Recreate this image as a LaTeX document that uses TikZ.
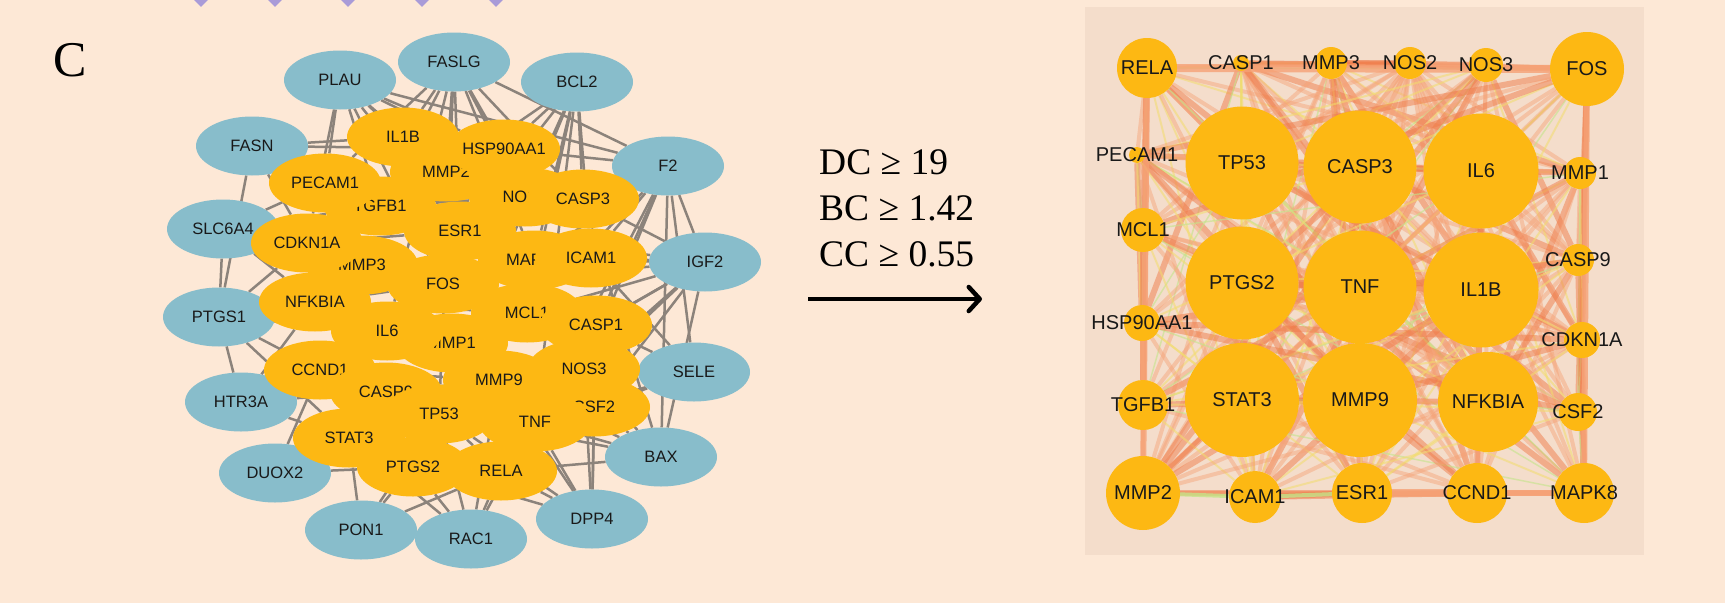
\documentclass[tikz,border=0pt]{standalone}
\usepackage{fontspec}
\setmainfont{Liberation Serif}
\newfontfamily\arialf{Liberation Sans}
\usetikzlibrary{arrows.meta,shapes.geometric}
\pgfdeclarelayer{back}
\pgfdeclarelayer{edges}
\pgfdeclarelayer{labels}
\pgfsetlayers{back,edges,main,labels}
\definecolor{bgc}{HTML}{FDE8D6}
\definecolor{panelc}{HTML}{F4DDCB}
\definecolor{orn}{HTML}{FDB813}
\definecolor{blu}{HTML}{88BDCB}
\definecolor{gre}{HTML}{8C837B}
\definecolor{dia}{HTML}{A99BD8}
\definecolor{eA}{HTML}{F07C4A}
\definecolor{eB}{HTML}{F6A276}
\definecolor{eC}{HTML}{F2DC6E}
\definecolor{eD}{HTML}{C4E48A}
\tikzset{
  lell/.style={ellipse, minimum width=112, minimum height=59, inner sep=0, draw=none},
  oell/.style={lell, fill=orn},
  bell/.style={lell, fill=blu},
  llab/.style={font=\arialf\fontsize{16.5}{16.5}\selectfont, text=black!90, inner sep=0},
  rcirc/.style={circle, fill=orn, inner sep=0, draw=none},
  rlab/.style={font=\arialf\fontsize{20}{20}\selectfont, text=black!90, inner sep=0},
  ledge/.style={draw=gre, line width=2.5},
  rA/.style={draw=eA, draw opacity=0.5, line width=6},
  rB/.style={draw=eB, draw opacity=0.45, line width=4},
  rC/.style={draw=eC, draw opacity=0.55, line width=2},
  rD/.style={draw=eD, draw opacity=0.6, line width=1.5},
  ring/.style={draw=eB, draw opacity=0.8, line width=6},
  serif/.style={font=\fontsize{37.5}{37.5}\selectfont, inner sep=0, anchor=base west},
  diam/.style={diamond, fill=dia, minimum width=18, minimum height=18, inner sep=0}
}
\begin{document}
\begin{tikzpicture}[x=1pt,y=-1pt]
\begin{pgfonlayer}{back}
\fill[bgc] (0,0) rectangle (1725,603);
\fill[panelc] (1085,7) rectangle (1644,555);
\end{pgfonlayer}
\useasboundingbox (0,0) rectangle (1725,603);

% top diamonds
\foreach \x [count=\k] in {201,275,348,422,496}
  \node[diam] (d\k) at (\x,-2) {};

% panel letter
\node[font=\fontsize{50}{50}\selectfont, inner sep=0] (letter) at (70,60) {C};

% criteria text
\node[serif] (dc) at (819,174) {DC ≥ 19};
\node[serif] (bc) at (819,220) {BC ≥ 1.42};
\node[serif] (cc) at (819,266) {CC ≥ 0.55};
\coordinate (arrS) at (808,299);
\coordinate (arrE) at (982,299);
\draw[line width=4.5, -{Straight Barb[length=11pt,width=24pt,line cap=round,line join=round]}] (arrS) -- (arrE);

% ===== left network =====
\foreach \n/\x/\y in {PLAU/340/80, FASLG/454/62, BCL2/577/82, FASN/252/146, F2/668/166,
  SLC6A4/223/229, IGF2/705/262, PTGS1/219/317, SELE/694/372, HTR3A/241/402,
  BAX/661/457, DUOX2/275/473, DPP4/592/519, PON1/361/530, RAC1/471/539}
  {\node[bell] (l-\n) at (\x,\y) {}; \node[llab] (lt-\n) at (l-\n) {\n};}

\foreach \n/\x/\y in {MMP2/446/172, TGFB1/380/206, NOS2/525/197, MAPK8/534/260,
  MMP3/362/265, MCL1/527/313, MMP1/452/343, CCND1/320/370, CSF2/594/407,
  CASP9/386/392, IL1B/403/137, HSP90AA1/504/149, PECAM1/325/183, CASP3/583/199,
  ICAM1/591/258, CDKN1A/307/243, ESR1/460/231, FOS/443/284, NFKBIA/315/302,
  CASP1/596/325, IL6/387/331, NOS3/584/369, MMP9/499/380, TNF/535/422,
  TP53/439/414, STAT3/349/438, PTGS2/413/467, RELA/501/471}
  {\node[oell] (l-\n) at (\x,\y) {}; \node[llab] (lt-\n) at (l-\n) {\n};}

\begin{pgfonlayer}{edges}
\foreach \a/\b in {
  PLAU/IL1B, PLAU/PECAM1, PLAU/MMP2, PLAU/TGFB1, PLAU/ESR1, PLAU/CDKN1A, PLAU/FOS, PLAU/HSP90AA1, PLAU/CASP3, PLAU/F2,
  FASLG/IL1B, FASLG/HSP90AA1, FASLG/MMP2, FASLG/TGFB1, FASLG/NOS2, FASLG/CASP3, FASLG/ESR1, FASLG/FOS, FASLG/MAPK8, FASLG/PECAM1, FASLG/TP53, FASLG/IL6, FASLG/F2,
  BCL2/HSP90AA1, BCL2/CASP3, BCL2/NOS2, BCL2/MMP2, BCL2/ESR1, BCL2/MAPK8, BCL2/ICAM1, BCL2/TNF, BCL2/TP53, BCL2/MCL1,
  FASN/HSP90AA1, FASN/PECAM1, FASN/CDKN1A, FASN/IL1B, FASN/PTGS1,
  F2/CASP3, F2/ICAM1, F2/MAPK8, F2/NOS2, F2/CASP1, F2/MCL1, F2/HSP90AA1, F2/NOS3, F2/TNF, F2/IGF2, F2/SELE, F2/BAX,
  SLC6A4/CDKN1A, SLC6A4/PECAM1, SLC6A4/NFKBIA, SLC6A4/MMP3, SLC6A4/FOS, SLC6A4/TGFB1, SLC6A4/PTGS1,
  IGF2/ICAM1, IGF2/CASP1, IGF2/NOS3, IGF2/MCL1, IGF2/MAPK8, IGF2/CASP3, IGF2/FOS, IGF2/TNF, IGF2/CSF2, IGF2/MMP9, IGF2/ESR1, IGF2/BAX,
  PTGS1/NFKBIA, PTGS1/IL6, PTGS1/CCND1, PTGS1/CDKN1A, PTGS1/STAT3, PTGS1/HTR3A,
  SELE/CSF2, SELE/NOS3, SELE/TNF, SELE/CASP1, SELE/MMP9, SELE/ICAM1,
  HTR3A/CCND1, HTR3A/STAT3, HTR3A/NFKBIA, HTR3A/CASP9,
  BAX/CSF2, BAX/TNF, BAX/RELA, BAX/TP53, BAX/NOS3, BAX/CASP3, BAX/MMP9,
  DUOX2/STAT3, DUOX2/PTGS2, DUOX2/CCND1,
  DPP4/RELA, DPP4/TNF, DPP4/CSF2, DPP4/NOS3, DPP4/MMP9, DPP4/TP53, DPP4/PTGS2, DPP4/CASP1,
  PON1/PTGS2, PON1/STAT3, PON1/RELA, PON1/TP53,
  RAC1/PTGS2, RAC1/RELA, RAC1/TP53, RAC1/TNF, RAC1/MMP9, RAC1/STAT3,
  TGFB1/NOS2, CDKN1A/ESR1, CDKN1A/FOS, NFKBIA/MCL1, NFKBIA/FOS, ESR1/ICAM1,
  MMP1/CASP1, MMP1/NOS3, CCND1/TP53, CCND1/MMP9, CASP9/MMP9, STAT3/TNF,
  TP53/RELA, PECAM1/ESR1, IL1B/HSP90AA1, MMP3/MCL1}
  \draw[ledge] (l-\a) -- (l-\b);
\end{pgfonlayer}

% ===== right network =====
\foreach \n/\x/\y/\d in {RELA/1147/68/60, CASP1/1241/63/16, MMP3/1331/63/32, NOS2/1410/63/32,
  NOS3/1486/65/34, FOS/1587/69/74, PECAM1/1137/155/16, TP53/1242/163/113,
  CASP3/1360/167/113, IL6/1481/171/115, MMP1/1580/173/32, MCL1/1143/230/44,
  CASP9/1578/260/32, PTGS2/1242/283/113, TNF/1360/287/113, IL1B/1481/290/115,
  HSP90AA1/1142/323/36, CDKN1A/1582/340/36, TGFB1/1143/405/50, STAT3/1242/400/114,
  MMP9/1360/400/114, NFKBIA/1488/402/100, CSF2/1578/412/38, MMP2/1143/493/74,
  ICAM1/1255/497/52, ESR1/1362/493/60, CCND1/1477/493/60, MAPK8/1584/493/60}
  {\node[rcirc, minimum size=\d] (r-\n) at (\x,\y) {};
   \begin{pgfonlayer}{labels}\node[rlab] (rt-\n) at (r-\n) {\n};\end{pgfonlayer}}

\begin{pgfonlayer}{edges}
\foreach \a [count=\i] in {RELA,CASP1,MMP3,NOS2,NOS3,FOS,PECAM1,TP53,CASP3,IL6,MMP1,MCL1,CASP9,PTGS2,TNF,IL1B,HSP90AA1,CDKN1A,TGFB1,STAT3,MMP9,NFKBIA,CSF2,MMP2,ICAM1,ESR1,CCND1,MAPK8}
{
  \foreach \b [count=\j] in {RELA,CASP1,MMP3,NOS2,NOS3,FOS,PECAM1,TP53,CASP3,IL6,MMP1,MCL1,CASP9,PTGS2,TNF,IL1B,HSP90AA1,CDKN1A,TGFB1,STAT3,MMP9,NFKBIA,CSF2,MMP2,ICAM1,ESR1,CCND1,MAPK8}
  {
    \ifnum\j>\i
      \pgfmathtruncatemacro\h{mod(\i*\i*3+\j*7+\i*\j,11)}
      \ifnum\h<2 \draw[rA] (r-\a) -- (r-\b);
      \else\ifnum\h<5 \draw[rB] (r-\a) -- (r-\b);
      \else\ifnum\h<7 \draw[rC] (r-\a) -- (r-\b);
      \else\ifnum\h<8 \draw[rD] (r-\a) -- (r-\b);
      \fi\fi\fi\fi
    \fi
  }
}
\draw[ring, draw=eB, line width=8] (r-RELA) -- (r-FOS);
\draw[ring] (r-RELA) -- (r-MMP2);
\draw[ring] (r-FOS) -- (r-MAPK8);
\draw[ring, draw=eD, line width=4] (r-MMP2) -- (r-ICAM1);
\draw[ring, draw=eD, line width=4] (r-ICAM1) -- (r-ESR1);
\draw[ring, line width=8] (r-ESR1) -- (r-CCND1);
\draw[ring, line width=6] (r-CCND1) -- (r-MAPK8);
\end{pgfonlayer}
\end{tikzpicture}
\end{document}
